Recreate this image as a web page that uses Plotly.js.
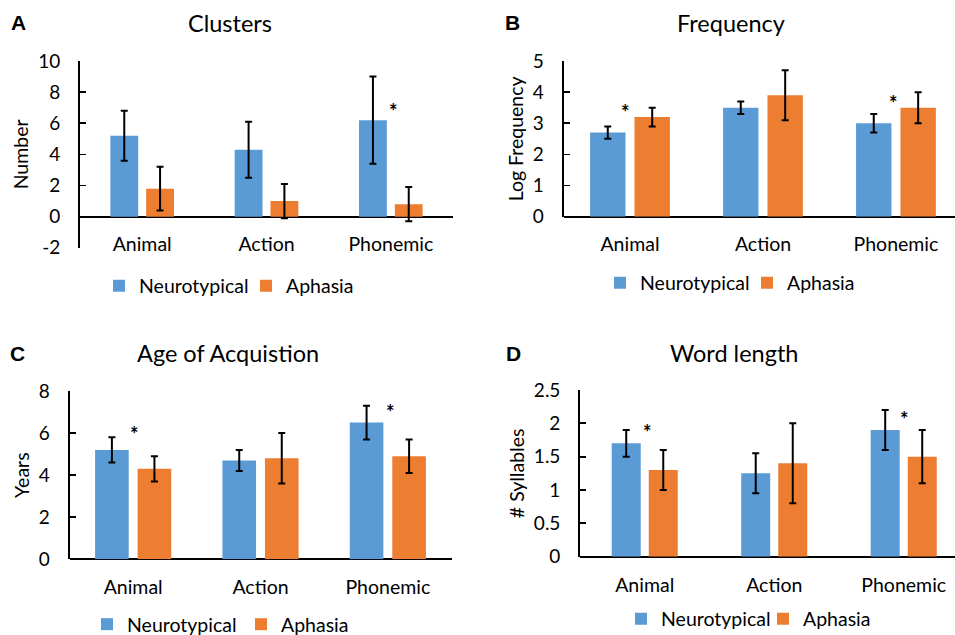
<!DOCTYPE html>
<html><head><meta charset="utf-8">
<script src="https://cdn.plot.ly/plotly-3.0.1.min.js"></script>
<style>html,body{margin:0;padding:0;background:#fff;overflow:hidden}</style>
</head><body><div id="chart" style="width:955px;height:635px"></div>
<script>
// ---------- data ----------
const categories = ['Animal', 'Action', 'Phonemic'];
const seriesNames = ['Neurotypical', 'Aphasia'];

const clustersNeuro = [5.2, 4.3, 6.2];
const clustersNeuroErr = [1.6, 1.8, 2.8];
const clustersAph = [1.8, 1.0, 0.8];
const clustersAphErr = [1.4, 1.1, 1.1];
const clustersTickVals = [-2, 0, 2, 4, 6, 8, 10];
const clustersTickText = ['-2', '0', '2', '4', '6', '8', '10'];
const clustersStars = [{cat: 'Phonemic', y: 7.1, dx: 3}];

const freqNeuro = [2.7, 3.5, 3.0];
const freqNeuroErr = [0.2, 0.2, 0.3];
const freqAph = [3.2, 3.9, 3.5];
const freqAphErr = [0.3, 0.8, 0.5];
const freqStars = [{cat: 'Animal', y: 3.53, dx: -4}, {cat: 'Phonemic', y: 3.8, dx: -2}];

const aoaNeuro = [5.2, 4.7, 6.5];
const aoaNeuroErr = [0.6, 0.5, 0.8];
const aoaAph = [4.3, 4.8, 4.9];
const aoaAphErr = [0.6, 1.2, 0.8];
const aoaStars = [{cat: 'Animal', y: 6.19, dx: 1}, {cat: 'Phonemic', y: 7.22, dx: 3}];

const lenNeuro = [1.7, 1.25, 1.9];
const lenNeuroErr = [0.2, 0.3, 0.3];
const lenAph = [1.3, 1.4, 1.5];
const lenAphErr = [0.3, 0.6, 0.4];
const lenStars = [{cat: 'Animal', y: 1.94, dx: 3}, {cat: 'Phonemic', y: 2.14, dx: 1}];

// ---------- styling / layout ----------
const W = 955, H = 635;
const FONT = 'Lato, Carlito, "Open Sans", sans-serif';
const BLUE = '#5B9BD5', ORANGE = '#ED7D31';
const TICK = 19, LEGF = 19.5, ATIT = 19.5, TITLE = 23.5;
const fx = p => p / W;
const fy = p => 1 - p / H;

const panels = [
  {letter: 'A', title: 'Clusters', ytitle: 'Number',
   neuro: clustersNeuro, neuroErr: clustersNeuroErr, aph: clustersAph, aphErr: clustersAphErr,
   stars: clustersStars, yr: [-2, 10], dtick: 2, tickvals: clustersTickVals, ticktext: clustersTickText,
   L: 80, R: 453, T: 61, B: 247.8, xr: [-0.5, 2.5], bw: 0.224, gap: 0.064,
   titlePos: [229.5, 23], letterPos: [18.5, 23], leg: [110, 286], entry: 102, lab: 244},
  {letter: 'B', title: 'Frequency', ytitle: 'Log Frequency',
   neuro: freqNeuro, neuroErr: freqNeuroErr, aph: freqAph, aphErr: freqAphErr,
   stars: freqStars, yr: [0, 5], dtick: 1,
   L: 563.5, R: 955, T: 61, B: 216.7, xr: [-0.5, 2.444], bw: 0.266, gap: 0.068,
   titlePos: [731, 23], letterPos: [512, 23], leg: [611, 283], entry: 102, lab: 244},
  {letter: 'C', title: 'Age of Acquistion', ytitle: 'Years',
   neuro: aoaNeuro, neuroErr: aoaNeuroErr, aph: aoaAph, aphErr: aoaAphErr,
   stars: aoaStars, yr: [0, 8], dtick: 2,
   L: 69.5, R: 451.5, T: 391, B: 559.3, xr: [-0.5, 2.5], bw: 0.264, gap: 0.07,
   titlePos: [228, 353], letterPos: [17.5, 353], leg: [98, 624.5], entry: 109, lab: 587},
  {letter: 'D', title: 'Word length', ytitle: '# Syllables',
   neuro: lenNeuro, neuroErr: lenNeuroErr, aph: lenAph, aphErr: lenAphErr,
   stars: lenStars, yr: [0, 2.5], dtick: 0.5,
   L: 580, R: 955, T: 390, B: 556.7, xr: [-0.5, 2.396], bw: 0.224, gap: 0.062,
   titlePos: [734, 353], letterPos: [513, 353], leg: [632, 619], entry: 97, lab: 585}
];

const traces = [];
const layout = {
  width: W, height: H,
  margin: {l: 0, r: 0, t: 0, b: 0, autoexpand: false},
  paper_bgcolor: '#fff', plot_bgcolor: 'rgba(0,0,0,0)',
  font: {family: FONT, size: TICK, color: '#000'},
  showlegend: true,
  annotations: []
};

panels.forEach((p, i) => {
  const n = i === 0 ? '' : String(i + 1);
  const xa = 'x' + n, ya = 'y' + n, lg = 'legend' + n;
  const errStyle = {type: 'data', visible: true, color: '#000', thickness: 2, width: 3.5};
  traces.push({
    type: 'bar', name: seriesNames[0], x: categories, y: p.neuro,
    error_y: Object.assign({array: p.neuroErr}, errStyle),
    marker: {color: BLUE}, width: p.bw, offset: -(p.bw + p.gap / 2),
    xaxis: xa, yaxis: ya, legend: lg, hoverinfo: 'x+y'
  });
  traces.push({
    type: 'bar', name: seriesNames[1], x: categories, y: p.aph,
    error_y: Object.assign({array: p.aphErr}, errStyle),
    marker: {color: ORANGE}, width: p.bw, offset: p.gap / 2,
    xaxis: xa, yaxis: ya, legend: lg, hoverinfo: 'x+y'
  });

  layout['xaxis' + n] = {
    domain: [fx(p.L), fx(p.R)], range: p.xr, type: 'category',
    anchor: 'free', position: fy(p.lab - 14),
    showline: false, showgrid: false, zeroline: false, ticks: '',
    tickfont: {family: FONT, size: LEGF, color: '#000'}, fixedrange: true
  };
  const yax = {
    domain: [fy(p.B), fy(p.T)], range: p.yr, anchor: xa,
    showline: true, linecolor: '#000', linewidth: 1.8,
    ticks: 'inside', ticklen: 6, tickwidth: 1.8, tickcolor: '#000',
    dtick: p.dtick, showgrid: false,
    zeroline: true, zerolinecolor: '#000', zerolinewidth: 1.8,
    ticklabelstandoff: 14,
    tickfont: {family: FONT, size: TICK, color: '#000'},
    title: {text: p.ytitle, standoff: 4, font: {family: FONT, size: ATIT, color: '#000'}},
    fixedrange: true
  };
  if (p.tickvals) { yax.tickmode = 'array'; yax.tickvals = p.tickvals; yax.ticktext = p.ticktext; }
  layout['yaxis' + n] = yax;

  layout[lg] = {
    x: fx(p.leg[0] - 11), y: fy(p.leg[1]), xanchor: 'left', yanchor: 'middle',
    orientation: 'h', bgcolor: 'rgba(0,0,0,0)', borderwidth: 0,
    entrywidth: p.entry, entrywidthmode: 'pixels',
    font: {family: FONT, size: LEGF, color: '#000'}, traceorder: 'normal'
  };

  layout.annotations.push({
    xref: 'paper', yref: 'paper', x: fx(p.titlePos[0]), y: fy(p.titlePos[1]),
    xanchor: 'center', yanchor: 'middle', text: p.title, showarrow: false,
    font: {family: FONT, size: TITLE, color: '#000'}
  });
  layout.annotations.push({
    xref: 'paper', yref: 'paper', x: fx(p.letterPos[0]), y: fy(p.letterPos[1]),
    xanchor: 'center', yanchor: 'middle', text: '<b>' + p.letter + '</b>', showarrow: false,
    font: {family: 'Liberation Sans, Arial, sans-serif', size: 21, color: '#000'}
  });
  p.stars.forEach(s => {
    layout.annotations.push({
      xref: xa, yref: ya, x: s.cat, y: s.y, xshift: s.dx, yshift: -5,
      xanchor: 'center', yanchor: 'middle', text: '<b>*</b>', showarrow: false,
      font: {family: FONT, size: 20, color: '#000'}
    });
  });
});

Plotly.newPlot('chart', traces, layout, {displayModeBar: false, staticPlot: true});
</script>
</body></html>
